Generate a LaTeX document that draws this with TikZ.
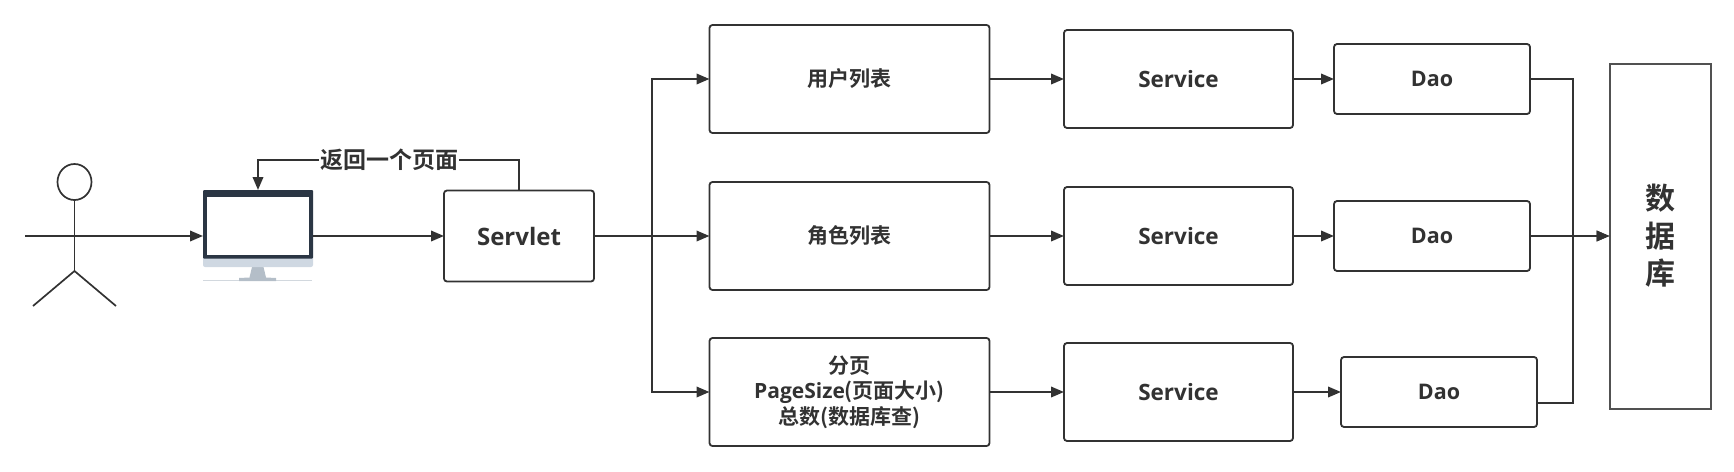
\documentclass[tikz,border=0pt]{standalone}
\usepackage{fontspec}
\setmainfont{Open Sans}[BoldFont={Open Sans Bold}]
\newfontfamily\cjk{Noto Sans CJK SC}[BoldFont={Noto Sans CJK SC Bold}]
\usetikzlibrary{arrows.meta,shapes.geometric}
\definecolor{ink}{HTML}{323232}
\definecolor{screenDark}{HTML}{2B3644}
\definecolor{chin}{HTML}{CFD8E2}
\definecolor{standc}{HTML}{B4BEC8}
\newcommand{\zh}[1]{{\cjk\bfseries #1}}
\tikzset{
  x=1pt,y=-1pt,
  box/.style={draw=ink,line width=1.8pt,rounded corners=3pt,minimum width=#1,inner sep=0pt,outer sep=0pt,align=center,text=ink,font=\bfseries},
  box/.default=100pt,
  rowA/.style={box=280pt,minimum height=108pt,font=\fontsize{21}{25.5}\selectfont\bfseries},
  rowB/.style={box=229pt,minimum height=98pt,font=\fontsize{22.5}{28}\selectfont\bfseries},
  rowC/.style={box=196pt,minimum height=70pt,font=\fontsize{21.5}{26}\selectfont\bfseries},
  arr/.style={draw=ink,line width=2pt,-{Triangle[length=13pt,width=10.5pt]}},
  lin/.style={draw=ink,line width=2pt},
  stick/.style={draw=ink,line width=1.7pt},
}
\begin{document}
\begin{tikzpicture}
\useasboundingbox (0,0) rectangle (1734,471);
% person
\node[ellipse,stick,minimum width=34pt,minimum height=36pt,inner sep=0pt,outer sep=0pt] (head) at (74.5,182) {};
\coordinate (crotch) at (74.5,271);
\coordinate (arml) at (25,236);
\coordinate (armr) at (125,236);
\coordinate (footl) at (33,306);
\coordinate (footr) at (116,306);
\draw[stick] (head.south) -- (crotch);
\draw[stick] (arml) -- (armr);
\draw[stick] (footl) -- (crotch) -- (footr);
% monitor
\node[minimum width=110pt,minimum height=92pt,inner sep=0pt,outer sep=0pt] (monitor) at (258,236) {};
\fill[standc!60] (203,280.2) rectangle (312,281);
\fill[standc] (252,267) -- (263.5,267) -- (266,277.5) -- (276,278) -- (276,281) -- (239,281) -- (239,278) -- (249.5,277.5) -- cycle;
\fill[chin,rounded corners=2pt] (203,256) rectangle (313,267);
\fill[screenDark,rounded corners=1pt] (203,190) rectangle (313,258.5);
\fill[white] (206.5,196.5) rectangle (309,254.5);
% boxes
\node[box,minimum width=150pt,minimum height=91pt,font=\fontsize{24}{28}\selectfont\bfseries] (servlet) at (519,236) {Servlet};
\node[rowA] (a1) at (849.5,79) {\zh{用户列表}};
\node[rowA] (a2) at (849.5,236) {\zh{角色列表}};
\node[rowA] (a3) at (849.5,392) {\zh{分页}\\PageSize\zh{(页面大小)}\\\zh{总数(数据库查)}};
\node[rowB] (s1) at (1178.5,79) {\raisebox{1pt}{Service}};
\node[rowB] (s2) at (1178.5,236) {\raisebox{1pt}{Service}};
\node[rowB] (s3) at (1178.5,392) {\raisebox{1pt}{Service}};
\node[rowC] (d1) at (1432,79) {Dao};
\node[rowC] (d2) at (1432,236) {Dao};
\node[rowC] (d3) at (1439,392) {Dao};
\node[draw=ink!85,line width=2pt,minimum width=101pt,minimum height=345pt,inner sep=0pt,outer sep=0pt,align=center,text=ink,font=\fontsize{30}{37.5}\selectfont] (db) at (1660,236) {\zh{数}\\\zh{据}\\\zh{库}};
% connectors
\coordinate (busL) at (652,236);
\coordinate (busR) at (1573,236);
\coordinate (d3out) at (1537,403);
\draw[arr] (armr) -- (monitor.west);
\draw[arr] (monitor.east) -- (servlet.west);
\node[fill=white,inner sep=1pt,outer sep=0pt,text=ink,font=\fontsize{23}{28}\selectfont] (ret) at (389,160) {\zh{返回一个页面}};
\coordinate (retR) at (servlet.north |- ret);
\coordinate (retL) at (monitor.north |- ret);
\draw[lin] (servlet.north) -- (retR) -- (ret.east);
\draw[arr] (ret.west) -- (retL) -- (monitor.north);
\draw[arr] (servlet.east) -- (a2.west);
\draw[arr] (servlet.east) -- (busL) |- (a1.west);
\draw[arr] (busL) |- (a3.west);
\foreach \i in {1,2,3}{
  \draw[arr] (a\i.east) -- (s\i.west);
  \draw[arr] (s\i.east) -- (d\i.west);
}
\draw[arr] (d2.east) -- (db.west);
\draw[lin] (d1.east) -| (busR);
\draw[lin] (d3out) -| (busR);
\draw[arr] (busR) -- (db.west);
\end{tikzpicture}
\end{document}
